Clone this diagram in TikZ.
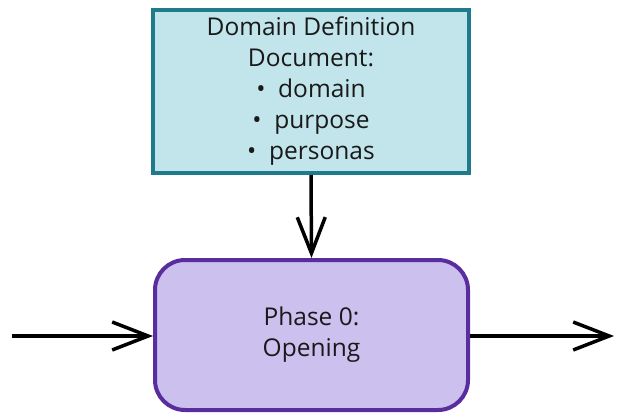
\documentclass[tikz,border=0pt]{standalone}
\usepackage{fontspec}
\setmainfont{Open Sans}
\definecolor{docteal}{RGB}{31,122,140}
\definecolor{docfill}{RGB}{194,229,236}
\definecolor{phpurple}{RGB}{90,45,158}
\definecolor{phfill}{RGB}{204,192,238}
\definecolor{txtdark}{RGB}{25,25,25}
\usetikzlibrary{arrows.meta,positioning}

\begin{document}
\begin{tikzpicture}[x=1pt, y=-1pt,
  dbox/.style={rectangle, draw=docteal, line width=4pt, fill=docfill,
               minimum width=316pt, minimum height=163pt, inner sep=0pt,
               font=\fontsize{24.5}{31}\selectfont, align=center, text=txtdark},
  pbox/.style={rectangle, rounded corners=30pt, draw=phpurple, line width=4pt,
               fill=phfill, minimum width=313pt, minimum height=150pt, inner sep=0pt,
               font=\fontsize{24.5}{31}\selectfont, align=center, text=txtdark},
  arr/.style={-{Straight Barb[length=36pt, width=28pt, line width=3.5pt]}, line width=3.5pt}
]
\useasboundingbox (0,0) rectangle (618,414);

% Boxes
\node[dbox] (domdoc) at (311, 91.5)
  {Domain Definition\\Document:\\\textbullet\ \ domain\\\textbullet\ \ purpose\\\textbullet\ \ personas};

\node[pbox] (phase0) at (311.5, 335) {Phase 0:\\Opening};

% Free ends
\coordinate (inflow)  at (12, 336);
\coordinate (outflow) at (614, 336);

% Arrows
\draw[arr] (domdoc.south) -- (phase0.north);
\draw[arr] (inflow) -- (phase0.west |- inflow);
\draw[arr] (phase0.east |- outflow) -- (outflow);
\end{tikzpicture}
\end{document}
